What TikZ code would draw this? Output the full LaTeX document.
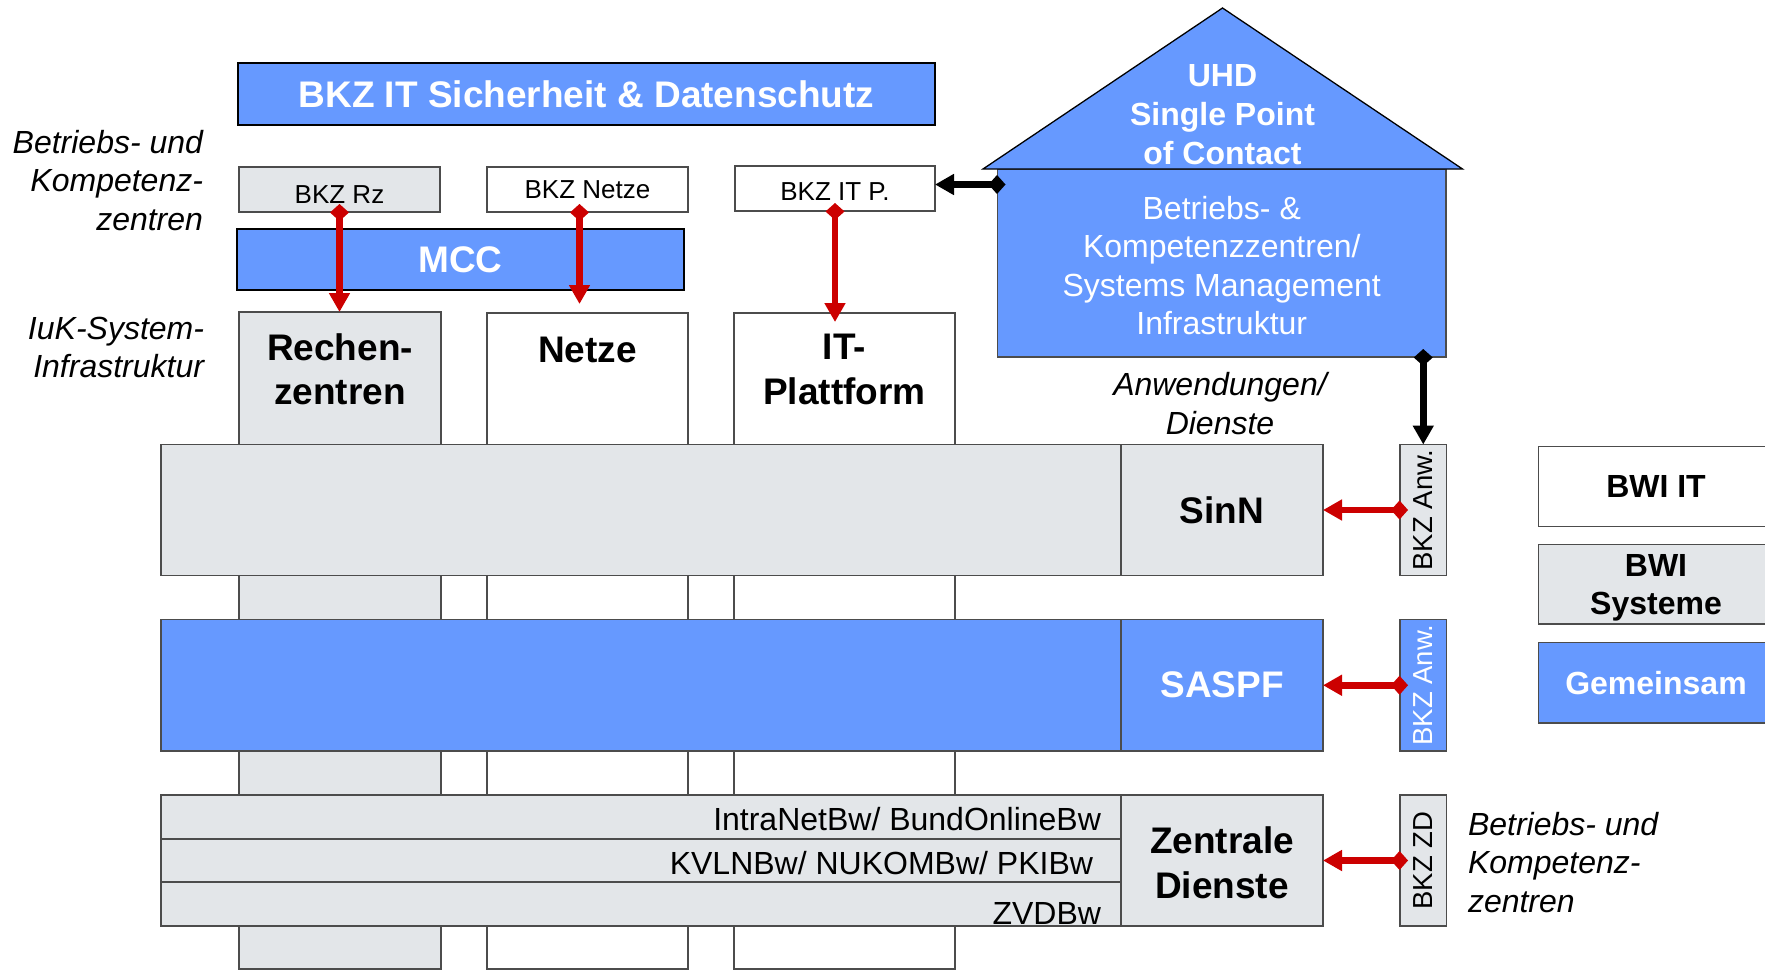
\documentclass[tikz,border=0pt]{standalone}
\usepackage{fontspec}
\setmainfont{Liberation Sans}
\usetikzlibrary{positioning, arrows.meta, calc}

\definecolor{bkzblue}{RGB}{102,153,255}
\definecolor{bkzgrey}{RGB}{227,230,233}
\definecolor{bkzred}{RGB}{204,0,0}

\begin{document}
\begin{tikzpicture}[x=1pt, y=-1pt,
  every node/.style = {inner sep=0pt, outer sep=0pt},
  box/.style       = {rectangle, draw=black!70, line width=1.3pt, anchor=north west},
  bluebox/.style   = {box, fill=bkzblue, text=white},
  greybox/.style   = {box, fill=bkzgrey},
  whitebox/.style  = {box, fill=white},
  strong/.style    = {draw=black, line width=2.4pt},
  big/.style       = {font=\bfseries\fontsize{37}{44.5}\selectfont, align=center},
  mid/.style       = {font=\bfseries\fontsize{32}{38.5}\selectfont, align=center},
  plain/.style     = {font=\fontsize{32}{38.3}\selectfont, align=center},
  small/.style     = {font=\fontsize{26}{30}\selectfont},
  turned/.style    = {font=\fontsize{27.5}{30}\selectfont, rotate=90},
  side/.style      = {font=\itshape\fontsize{32}{38.5}\selectfont},
  link/.style      = {line width=6.5pt, shorten <=-8pt,
                      {Diamond[length=17pt,width=19pt]}-{Triangle[length=19pt,width=20pt]}},
  redlink/.style   = {link, draw=bkzred, fill=bkzred},
  blacklink/.style = {link, draw=black, fill=black},
  ]
  \useasboundingbox[fill=white] (0,0) rectangle (1765,970);

  % Competence centres on top
  \node (bkzit)    at (238,63)  [bluebox, strong, big, minimum width=697, minimum height=62] {BKZ IT Sicherheit \& Datenschutz};
  \node (bkzrz)    at (239,167) [greybox, small, minimum width=201, minimum height=45, text height=27pt, text depth=0pt] {BKZ Rz};
  \node (bkznetze) at (487,167) [whitebox, small, minimum width=201, minimum height=45] {BKZ Netze};
  \node (bkzitp)   at (735,166) [whitebox, small, minimum width=200, minimum height=45, text height=24pt, text depth=0pt] {BKZ IT P.};
  \node (mcc)      at (237,229) [bluebox, strong, big, minimum width=447, minimum height=61] {MCC};

  % IuK system infrastructure columns
  \node (rz)    at (239,312) [greybox,  minimum width=202, minimum height=657] {};
  \node (netze) at (487,313) [whitebox, minimum width=201, minimum height=656] {};
  \node (itp)   at (734,313) [whitebox, minimum width=221, minimum height=656] {};
  \node (rztext)    [big, below=21.5pt of rz.north]  {Rechen-\\zentren};
  \node (netzetext) [big, below=24pt of netze.north] {Netze};
  \node (itptext)   [big, below=21.5pt of itp.north] {IT-\\Plattform};

  % Application bands
  \node (sinnbar)  at (161,444.5) [greybox, minimum width=960, minimum height=131] {};
  \node (sinn)     [greybox, big, minimum width=202, minimum height=131, right=0pt of sinnbar] {SinN};
  \node (saspfbar) at (161,619.5) [bluebox, minimum width=960, minimum height=131.5] {};
  \node (saspf)    [bluebox, big, minimum width=202, minimum height=131.5, right=0pt of saspfbar] {SASPF};
  \node (zdrow1)   at (161,795) [greybox, minimum width=960, minimum height=44] {};
  \node (zdrow2)   [greybox, minimum width=960, minimum height=43, below=0pt of zdrow1] {};
  \node (zdrow3)   [greybox, minimum width=960, minimum height=44, below=0pt of zdrow2] {};
  \node (zd)       at (zdrow1.north east) [greybox, minimum width=202, minimum height=131] {};
  \node (zdtext)   at ($(zd.center)+(0,2.5)$) [big] {Zentrale\\Dienste};
  \node (intranet) [plain, left=20pt of zdrow1.east, yshift=-2.5pt] {IntraNetBw/ BundOnlineBw};
  \node (kvlnbw)   [plain, left=28pt of zdrow2.east, yshift=-2.5pt] {KVLNBw/ NUKOMBw/ PKIBw};
  \node (zvdbw)    [plain, left=20pt of zdrow3.east, yshift=-9pt] {ZVDBw};

  % BKZ for applications
  \node (anw1)  at (1400,444.5) [greybox, minimum width=46.5, minimum height=131] {};
  \node (anw2)  at (1400,619.5) [bluebox, minimum width=46.5, minimum height=131.5] {};
  \node (bkzzd) at (1400,795)   [greybox, minimum width=46.5, minimum height=131] {};
  \node (anw1text)  at (anw1.center)  [turned] {BKZ Anw.};
  \node (anw2text)  at (anw2.center)  [turned, text=white] {BKZ Anw.};
  \node (bkzzdtext) at (bkzzd.center) [turned] {BKZ ZD};

  % House: UHD and operation centres
  \node (house) at (997.5,169) [bluebox, minimum width=448.5, minimum height=188] {};
  \node (housetext) at ($(house.center)+(0,2.5)$) [plain, text=white] {Betriebs- \&\\Kompetenzzentren/\\Systems Management\\Infrastruktur};
  \coordinate (roofleft)  at (983,169);
  \coordinate (apex)      at (1222.5,8);
  \coordinate (roofright) at (1462.5,169);
  \draw[fill=bkzblue, draw=black, line width=1.3pt] (roofleft) -- (apex) -- (roofright) -- cycle;
  \node (uhd) at (1222.5,115) [mid, text=white, font=\bfseries\fontsize{32}{39}\selectfont] {UHD\\Single Point\\of Contact};

  % Legend
  \node (bwiit)     at (1538.5,446.5) [whitebox, mid, minimum width=235, minimum height=80] {BWI IT};
  \node (bwisys)    at (1538.5,544.5) [greybox, mid, minimum width=235, minimum height=79.5, text depth=0pt] {BWI\\Systeme};
  \node (gemeinsam) at (1538.5,642.5) [bluebox, mid, minimum width=235, minimum height=80.5] {Gemeinsam};

  % Side labels
  \node (bkzleft)    at (203,180.5)  [side, anchor=east, align=right] {Betriebs- und\\Kompetenz-\\zentren};
  \node (iuk)        at (204,347.5)  [side, anchor=east, align=right] {IuK-System-\\Infrastruktur};
  \node (anwdienste) at (1220,403.5) [side, align=center] {Anwendungen/\\Dienste};
  \node (bkzright)   at (1468,862.5) [side, anchor=west, align=left] {Betriebs- und\\Kompetenz-\\zentren};

  % Links from the competence centres
  \draw[redlink] (bkzrz.south) -- (bkzrz.south |- rz.north);
  \draw[redlink] ($(bkznetze.south)+(-8,0)$) -- ($(bkznetze.south |- netze.north)+(-8,-9)$);
  \draw[redlink] (bkzitp.south) -- ($(bkzitp.south |- itp.north)+(0,9)$);
  \draw[redlink] (anw1.west)  -- (sinn.east);
  \draw[redlink] (anw2.west)  -- (saspf.east);
  \draw[redlink] (bkzzd.west) -- (zd.east);

  % Links from the help desk
  \draw[blacklink] ($(house.west |- bkzitp.east)+(0,-4)$) -- ($(bkzitp.east)+(0,-4)$);
  \draw[blacklink] (house.south -| anw1.north) -- (anw1.north);
\end{tikzpicture}
\end{document}
